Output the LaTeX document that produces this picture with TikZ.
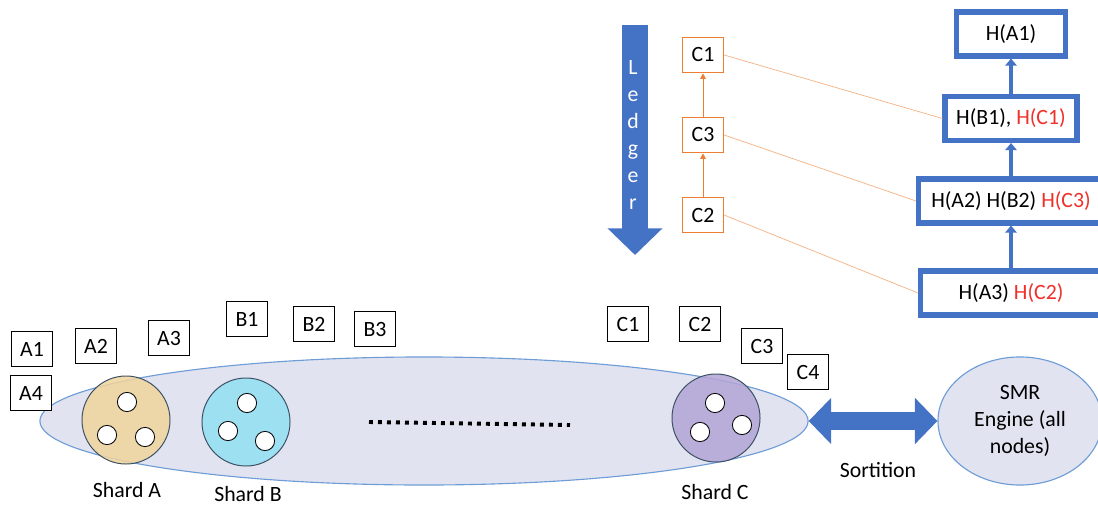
\documentclass[tikz,border=0pt]{standalone}
\usepackage{fontspec}
\setmainfont{Carlito}
\usetikzlibrary{shapes.geometric,arrows.meta,positioning}

\definecolor{hblue}{HTML}{4472C4}
\definecolor{lorange}{HTML}{ED7D31}
\definecolor{hred}{HTML}{F0302A}
\definecolor{ringfill}{HTML}{E1E4F0}
\definecolor{ringline}{HTML}{6E9CD6}
\definecolor{shardline}{HTML}{3C5064}
\definecolor{shardA}{HTML}{F0D49C}
\definecolor{shardB}{HTML}{92E0F2}
\definecolor{shardC}{HTML}{B3A5D5}

\tikzset{
  tx/.style={draw=black, line width=0.8pt, fill=white, minimum width=1.02cm, minimum height=0.88cm, inner sep=0pt},
  ltx/.style={draw=lorange, line width=1pt, fill=white, minimum width=1.02cm, minimum height=0.88cm, inner sep=0pt},
  hbox/.style={draw=hblue, line width=3.6pt, fill=white, minimum height=1.1cm, inner sep=0pt},
  shard/.style={circle, draw=shardline, line width=0.7pt, fill opacity=0.85, text opacity=1, minimum size=2.2cm, inner sep=0pt},
  member/.style={circle, draw=black, fill=white, line width=0.6pt, minimum size=0.48cm, inner sep=0pt},
  link/.style={draw=lorange!60, line width=0.5pt},
  up/.style={draw=hblue, line width=2.2pt, -{Triangle[length=5pt,width=8pt]}},
}

\begin{document}
\begin{tikzpicture}[x=0.025cm, y=-0.025cm, font=\fontsize{15.5}{19}\selectfont]
  \useasboundingbox (0,0) rectangle (1098,506);

  % ledger arrow
  \coordinate (ltop) at (635,25);
  \coordinate (ltip) at (635,255);
  \draw[hblue, line width=18.5pt, -{Triangle[length=19pt,width=38pt]}] (ltop) -- (ltip);
  \node[white, align=center, font=\fontsize{15.5}{19.3}\selectfont] (ledger) at (633,135) {L\\e\\d\\g\\e\\r};

  % chain of shard C
  \node[ltx] (lc1) at (703,55) {C1};
  \node[ltx] (lc3) at (703,135) {C3};
  \node[ltx] (lc2) at (703,215) {C2};
  \draw[lorange, line width=0.5pt, -{Triangle[length=4pt,width=4pt]}] (lc2) -- (lc3);
  \draw[lorange, line width=0.5pt, -{Triangle[length=4pt,width=4pt]}] (lc3) -- (lc1);

  % hash chain
  \node[hbox, minimum width=2.72cm] (ha1) at (1011,34) {H(A1)};
  \node[hbox, minimum width=3.3cm] (hb1) at (1011,118.5) {H(B1), \textcolor{hred}{H(C1)}};
  \node[hbox, minimum width=4.62cm] (ha2) at (1011,201) {H(A2) H(B2) \textcolor{hred}{H(C3)}};
  \node[hbox, minimum width=4.52cm] (ha3) at (1011,293) {H(A3) \textcolor{hred}{H(C2)}};
  \draw[up] (ha3) -- (ha2);
  \draw[up] (ha2) -- (hb1);
  \draw[up] (hb1) -- (ha1);

  \draw[link] (lc1.east) -- (hb1.west);
  \draw[link] (lc3.east) -- (ha2.west);
  \draw[link] (lc2.east) -- (ha3.west);

  % shards
  \node[ellipse, draw=ringline, fill=ringfill, line width=0.8pt, minimum width=19.2cm, minimum height=3.2cm, inner sep=0pt] (ring) at (424,421) {};
  \node[shard, fill=shardA] (sa) at (126,420) {};
  \node[shard, fill=shardB] (sb) at (246,422) {};
  \node[shard, fill=shardC] (sc) at (716,418) {};
  \foreach \x/\y in {127/402,107/435,145/437, 247/403,228/431,265/441, 715/403,700/432,742/425}
    \node[member] (m\x) at (\x,\y) {};
  \draw[line width=2.8pt, dash pattern=on 2.8pt off 3.6pt] (369,422) -- (570,425);

  \node (la) at (127,490) {Shard A};
  \node (lb) at (248,494) {Shard B};
  \node (lc) at (715,492) {Shard C};

  % transactions
  \foreach \n/\x/\y in {A1/32/349, A2/96/346, A3/169/338, A4/31/393,
                        B1/247/319, B2/314/324, B3/375/329,
                        C1/628/324, C2/700/324, C3/762/346, C4/808/372}
    \node[tx] (t\n) at (\x,\y) {\n};

  % SMR engine
  \node[ellipse, draw=ringline, fill=ringfill, line width=0.8pt, minimum width=4.1cm, minimum height=3.2cm, inner sep=0pt, align=center] (smr) at (1020,421) {SMR\\Engine (all\\nodes)};
  \draw[hblue, line width=13pt, {Triangle[length=16pt,width=32pt]}-{Triangle[length=16pt,width=32pt]}] (ring.east) -- (smr.west);
  \node (sort) at (878,470) {Sortition};
\end{tikzpicture}
\end{document}
